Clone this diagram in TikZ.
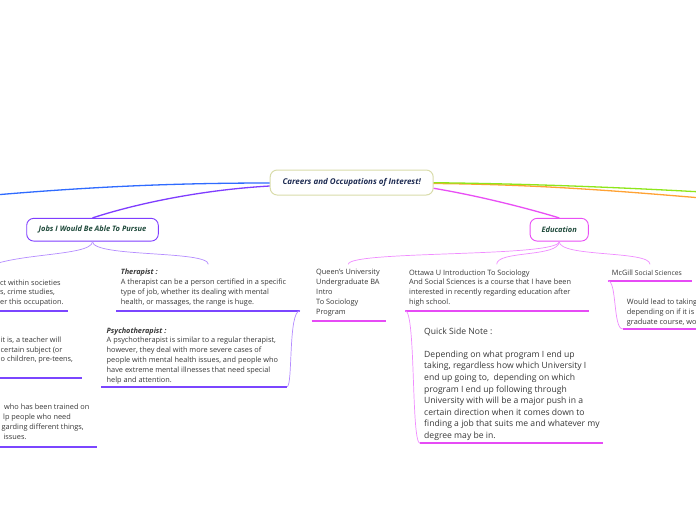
\documentclass[tikz,border=0pt]{standalone}
\usepackage{fontspec}
\setmainfont{Open Sans}
\definecolor{olivebr}{HTML}{D9DCAA}
\definecolor{navytext}{HTML}{1D2B52}
\definecolor{topicgreen}{HTML}{1F4A3B}
\definecolor{bodygray}{HTML}{383838}
\definecolor{bluebr}{HTML}{2F6BFF}
\definecolor{purplebr}{HTML}{7F3DFF}
\definecolor{purplelt}{HTML}{B58CFF}
\definecolor{purpleul}{HTML}{7B46FF}
\definecolor{greenbr}{HTML}{8EE61A}
\definecolor{orangebr}{HTML}{FFA233}
\definecolor{magbr}{HTML}{E94FF5}
\definecolor{maglt}{HTML}{F08CFF}
\definecolor{magul}{HTML}{E64BF5}
\begin{document}
\begin{tikzpicture}[x=1pt, y=-1pt,
	topicbox/.style={shape=rectangle, draw, rounded corners=7pt, line width=0.9pt, fill=white, inner sep=0pt, minimum height=22.7pt, font=\fontsize{7.5}{9}\selectfont\bfseries\itshape, text=topicgreen},
	notetext/.style={anchor=north west, align=left, inner sep=0pt, text=bodygray, font=\fontsize{7.35}{9.8}\selectfont},
	branch/.style={line width=1.3pt},
	twig/.style={line width=0.7pt},
	underline/.style={line width=1.8pt}]
	\useasboundingbox[fill=white] (0,0) rectangle (696,520);
	% topics
	\node[topicbox, draw=olivebr, line width=1pt, minimum width=163pt, minimum height=25pt, text=navytext, font=\fontsize{8}{9}\selectfont\bfseries\itshape] (careers) at (351.7,182.5) {Careers and Occupations of Interest!};
	\node[topicbox, draw=purplebr, minimum width=131.6pt] (jobs) at (92.5,229.7) {Jobs I Would Be Able To Pursue};
	\node[topicbox, draw=magbr, minimum width=58.3pt] (educ) at (559.2,229.7) {Education};
	% free ends and tops of subtopics
	\coordinate (blueend) at (-40,198);
	\coordinate (greenend) at (720,193);
	\coordinate (orangeend) at (720,199.5);
	\coordinate (l1top) at (-20,272);
	\coordinate (thertop) at (208.3,264.3);
	\coordinate (queenstop) at (348.3,264.3);
	\coordinate (ottawatop) at (496.7,264.3);
	\coordinate (mcgilltop) at (650,264.3);
	% main branches
	\draw[branch, bluebr] ([yshift=-0.5pt]careers.west) .. controls (150,183) and (60,189) .. (blueend);
	\draw[branch, purplebr] ([yshift=-3.5pt]careers.west) .. controls (200,190) and (135,204) .. (jobs.north);
	\draw[branch, orangebr] ([yshift=-1pt]careers.east) .. controls (550,184.5) and (640,193) .. (orangeend);
	\draw[branch, greenbr] ([yshift=-0.2pt]careers.east) .. controls (550,184) and (650,189) .. (greenend);
	\draw[branch, magbr] ([yshift=-5.8pt]careers.east) .. controls (480,196) and (530,209) .. (educ.north);
	% jobs subtree
	\draw[twig, purplelt] (jobs.south) .. controls +(0,16) and (0,252) .. (l1top);
	\draw[twig, purplelt] (jobs.south) .. controls +(0,16) and +(0,-14) .. (thertop);
	\node[notetext] (l1) at (0,279.3) {ct within societies\\s, crime studies,\\er this occupation.};
	\node[notetext] (l2) at (0.5,336.6) {it is, a teacher will\\certain subject (or\\o children, pre-teens,};
	\node[notetext] (l3) at (1.5,403.9) {\hspace*{2.5pt}who has been trained on\\\hspace*{1.5pt}lp people who need\\garding different things,\\\hspace*{1.8pt}issues.};
	\node[notetext] (ther) at (120.7,269.1) {\textbf{\textit{Therapist :}}\\A therapist can be a person certified in a specific\\type of job, whether its dealing with mental\\health, or massages, the range is huge.};
	\node[notetext] (psych) at (106.5,327.3) {\textbf{\textit{Psychotherapist :}}\\A psychotherapist is similar to a regular therapist,\\however, they deal with more severe cases of\\people with mental health issues, and people who\\have extreme mental illnesses that need special\\help and attention.};
	\coordinate (l1-l) at (-5,310.7);
	\coordinate (l1-r) at (67.7,310.7);
	\coordinate (l2-l) at (-5,378.3);
	\coordinate (l2-r) at (81.7,378.3);
	\coordinate (l3-l) at (-5,446.7);
	\coordinate (l3-r) at (96.7,446.7);
	\coordinate (ther-l) at (116,310.7);
	\coordinate (ther-r) at (300,310.7);
	\coordinate (psych-l) at (101,386.7);
	\coordinate (psych-r) at (287,386.7);
	\draw[underline, purpleul] (l1-l) -- (l1-r);
	\draw[underline, purpleul] (l2-l) -- (l2-r);
	\draw[underline, purpleul] (l3-l) -- (l3-r);
	\draw[underline, purpleul] (ther-l) -- (ther-r);
	\draw[underline, purpleul] (psych-l) -- (psych-r);
	\draw[twig, purplelt] (ther-r) .. controls (288,310.7) and (293,386.7) .. (psych-r);
	% education subtree
	\draw[twig, maglt] (educ.south) .. controls +(0,16) and +(0,-14) .. (queenstop);
	\draw[twig, maglt] (educ.south) .. controls +(0,16) and +(0,-14) .. (ottawatop);
	\draw[twig, maglt] (educ.south) .. controls +(0,16) and +(0,-14) .. (mcgilltop);
	\node[notetext] (queens) at (316,269.3) {Queen’s University\\Undergraduate BA\\Intro\\To Sociology\\Program};
	\node[notetext] (ottawa) at (409,269.3) {Ottawa U Introduction To Sociology\\And Social Sciences is a course that I have been\\interested in recently regarding education after\\high school.};
	\node[notetext] (mcgill) at (611.7,269.3) {McGill \raisebox{-0.6pt}{\fontsize{6.8}{8}\selectfont Social Sciences}};
	\node[notetext] (would) at (626.7,298.9) {Would lead to taking\\depending on if it is\\graduate course, wo};
	\node[notetext, font=\fontsize{8.6}{11.6}\selectfont] (quick) at (424,327.8) {Quick Side Note :\\[11.2pt]Depending on what program I end up\\taking, regardless how which University I\\end up going to,~ depending on which\\program I end up following through\\University with will be a major push in a\\certain direction when it comes down to\\finding a job that suits me and whatever my\\degree may be in.};
	\coordinate (queens-l) at (311.7,320.7);
	\coordinate (queens-r) at (386,320.7);
	\coordinate (ottawa-l) at (405.3,310.7);
	\coordinate (ottawa-r) at (588.7,310.7);
	\coordinate (quick-l) at (420,443.3);
	\coordinate (quick-r) at (603,443.3);
	\coordinate (mcgill-l) at (608,280.7);
	\coordinate (mcgill-r) at (691.7,280.7);
	\coordinate (would-l) at (622.7,329);
	\coordinate (would-r) at (705,329);
	\draw[underline, magul] (queens-l) -- (queens-r);
	\draw[underline, magul] (ottawa-l) -- (ottawa-r);
	\draw[underline, magul] (quick-l) -- (quick-r);
	\draw[underline, magul] (mcgill-l) -- (mcgill-r);
	\draw[underline, magul] (would-l) -- (would-r);
	\draw[twig, maglt] (ottawa-l) .. controls (416,311) and (411,443.3) .. (quick-l);
	\draw[twig, maglt] (mcgill-l) .. controls (617,281) and (613,329) .. (would-l);
\end{tikzpicture}
\end{document}
